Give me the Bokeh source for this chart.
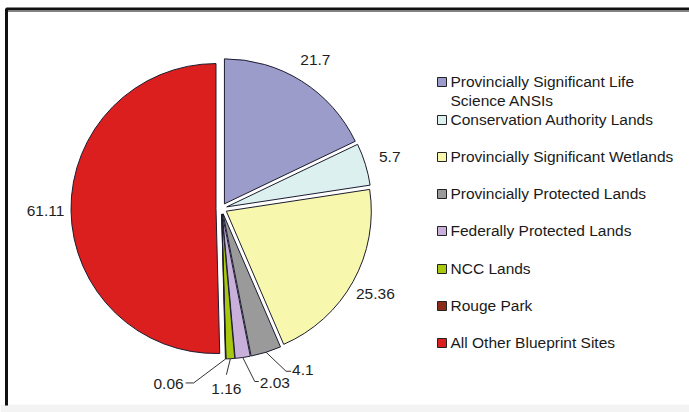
import math
from bokeh.plotting import figure
from bokeh.models import Range1d
from bokeh.embed import file_html
from bokeh.resources import INLINE
from bokeh.core.properties import value

# ---- data ----
categories = [
    "Provincially Significant Life Science ANSIs",
    "Conservation Authority Lands",
    "Provincially Significant Wetlands",
    "Provincially Protected Lands",
    "Federally Protected Lands",
    "NCC Lands",
    "Rouge Park",
    "All Other Blueprint Sites",
]
values = [21.7, 5.7, 25.36, 4.1, 2.03, 1.16, 0.06, 61.11]
value_labels = ["21.7", "5.7", "25.36", "4.1", "2.03", "1.16", "0.06", "61.11"]
legend_lines = [
    ["Provincially Significant Life", "Science ANSIs"],
    ["Conservation Authority Lands"],
    ["Provincially Significant Wetlands"],
    ["Provincially Protected Lands"],
    ["Federally Protected Lands"],
    ["NCC Lands"],
    ["Rouge Park"],
    ["All Other Blueprint Sites"],
]
colors = ["#9c9ccb", "#ddf0f0", "#f7f7ae", "#9a9a9a", "#c8b0da", "#a8c810", "#8b2a1a", "#db1f1f"]

# ---- layout / style ----
W, H = 689, 412
FONT = value("Liberation Sans")
FSIZE = "15.5px"
CX, CY_PX, R, EXPLODE = 221, 208, 145, 5.5
LABEL_R = 176


def Y(y_px):
    return H - y_px


p = figure(width=W, height=H, x_range=Range1d(0, W), y_range=Range1d(0, H),
           output_backend="svg", toolbar_location=None,
           x_axis_location=None, y_axis_location=None, min_border=0)
p.grid.visible = False
p.outline_line_color = None
p.background_fill_color = "white"
p.border_fill_color = "white"

# frame
p.quad(left=0, right=W, bottom=0, top=Y(404), fill_color="#f3f3f3", line_color=None)
p.line(x=[6, 6, W + 5], y=[Y(405), Y(8.5), Y(8.5)], line_width=3, line_color="#111111")
p.line(x=[7.5, W], y=[Y(10.8), Y(10.8)], line_width=1, line_color="#666666")

# pie
total = sum(values)
cy = Y(CY_PX)
cum = 0.0
mids = []
for v, c in zip(values, colors):
    a0 = math.pi / 2 - 2 * math.pi * cum / total
    a1 = math.pi / 2 - 2 * math.pi * (cum + v) / total
    mid = (a0 + a1) / 2
    mids.append(mid)
    ox = CX + EXPLODE * math.cos(mid)
    oy = cy + EXPLODE * math.sin(mid)
    p.wedge(x=ox, y=oy, radius=R, start_angle=a1, end_angle=a0,
            fill_color=c, line_color="#1c1c30", line_width=1)
    cum += v

# value labels
label_style = dict(text_font=FONT, text_font_size=FSIZE, text_color="#1e1e1e")
leaders = {
    3: dict(elbow=(20, 19), end=(25, 19), align="left", lab=(26, 18)),
    4: dict(elbow=(12, 24), end=(16, 24), align="left", lab=(17, 26)),
    5: dict(elbow=(-4, 16), end=None, align="center", lab=(-4, 30)),
    6: dict(elbow=(-32, 24), end=(-40, 24), align="right", lab=(-42, 25)),
}
for i, (lab, mid) in enumerate(zip(value_labels, mids)):
    if i in leaders:
        L = leaders[i]
        ex = CX + (R + EXPLODE) * math.cos(mid)
        ey = cy + (R + EXPLODE) * math.sin(mid)
        xs = [ex, ex + L["elbow"][0]]
        ys = [ey, ey - L["elbow"][1]]
        if L["end"]:
            xs.append(ex + L["end"][0])
            ys.append(ey - L["end"][1])
        p.line(x=xs, y=ys, line_color="#333333", line_width=1)
        p.text(x=[ex + L["lab"][0]], y=[ey - L["lab"][1]], text=[lab],
               text_align=L["align"], text_baseline="middle", **label_style)
    else:
        lx = CX + LABEL_R * math.cos(mid)
        ly = cy + LABEL_R * math.sin(mid)
        p.text(x=[lx], y=[ly], text=[lab], text_align="center",
               text_baseline="middle", **label_style)

# legend
legend_rows_px = [81, 119, 156, 193, 230, 268, 305, 342]
LINE_H = 19
for lines, c, row in zip(legend_lines, colors, legend_rows_px):
    p.rect(x=[441.5], y=[Y(row + 0.5)], width=9, height=9, fill_color=c,
           line_color="#222222", line_width=1)
    for k, t in enumerate(lines):
        p.text(x=[450], y=[Y(row + k * LINE_H)], text=[t], text_align="left",
               text_baseline="middle", text_font=FONT, text_font_size=FSIZE,
               text_color="#1a1a1a")

open("out.html", "w").write(file_html(p, INLINE))
